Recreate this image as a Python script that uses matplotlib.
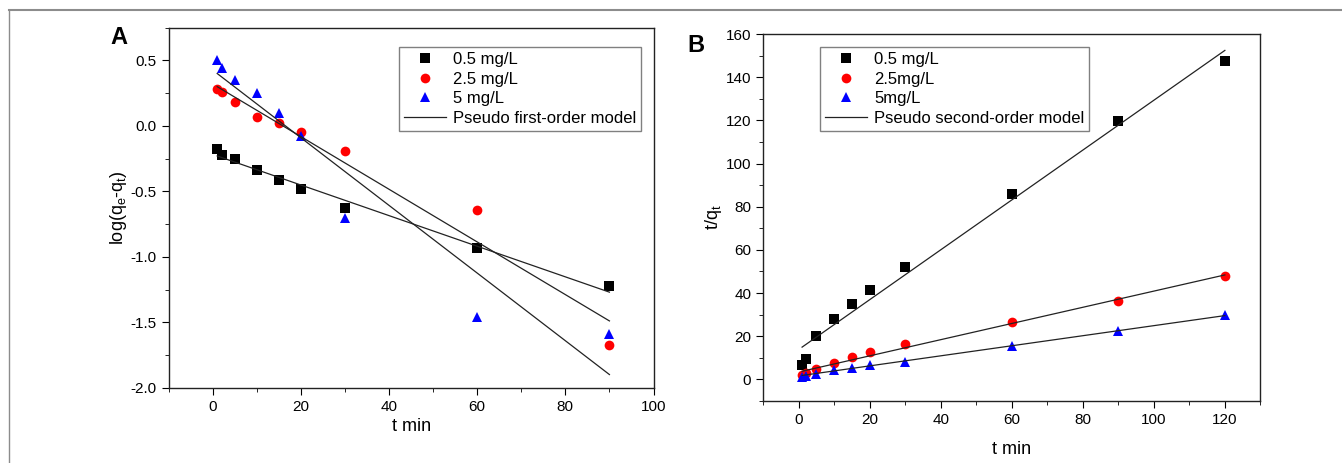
import numpy as np
import matplotlib
matplotlib.use("Agg")
import matplotlib.pyplot as plt
from matplotlib.lines import Line2D
from matplotlib.ticker import MultipleLocator

plt.rcParams['font.family'] = ['Liberation Sans', 'DejaVu Sans']
plt.rcParams['axes.unicode_minus'] = False

# ---------------- data: panel A (pseudo first-order) ----------------
t_A = [1, 2, 5, 10, 15, 20, 30, 60, 90]
logq_05 = [-0.18, -0.22, -0.25, -0.34, -0.41, -0.48, -0.63, -0.93, -1.22]
logq_25 = [0.28, 0.26, 0.18, 0.07, 0.02, -0.05, -0.19, -0.64, -1.67]
logq_5 = [0.50, 0.44, 0.35, 0.25, 0.10, -0.08, -0.70, -1.46, -1.59]
# fitted lines (slope, intercept)
fitA_slope = [-0.01169, -0.02011, -0.02584]
fitA_icpt = [-0.218, 0.320, 0.426]
labels_A = ["0.5 mg/L", "2.5 mg/L", "5 mg/L"]

# ---------------- data: panel B (pseudo second-order) ----------------
t_B = [1, 2, 5, 10, 15, 20, 30, 60, 90, 120]
tq_05 = [6.5, 9.5, 20, 28, 35, 41.5, 52, 86, 119.5, 147.5]
tq_25 = [2, 3, 5, 7.5, 10.5, 12.5, 16.5, 26.5, 36.5, 48]
tq_5 = [1, 1.5, 2.5, 4.5, 5.5, 6.5, 8, 15.5, 22.5, 30]
fitB_slope = [1.155, 0.375, 0.233]
fitB_icpt = [13.8, 3.4, 1.6]
labels_B = ["0.5 mg/L", "2.5mg/L", "5mg/L"]

colors = ["#000000", "#ff0000", "#0000ff"]
markers = ["s", "o", "^"]
msizes = [6.5, 7, 7.5]

fig = plt.figure(figsize=(13.42, 4.63), dpi=100)

# outer frame lines (top and left)
fig.add_artist(Line2D([9/1342, 1.0], [1-10/463, 1-10/463], color="#8c8c8c", lw=1.5))
fig.add_artist(Line2D([9/1342, 9/1342], [0, 1-10/463], color="#8c8c8c", lw=1.0))

def style_axes(ax):
    for s in ax.spines.values():
        s.set_linewidth(1.0)
        s.set_color("#222222")
    ax.tick_params(which="both", direction="out", top=False, right=False, labelsize=11)
    ax.tick_params(which="major", length=5)
    ax.tick_params(which="minor", length=3)

legend_kw = dict(loc="upper left", fontsize=12, frameon=True, fancybox=False,
                 edgecolor="#808080", framealpha=1, handlelength=2.5, labelspacing=0.28,
                 borderpad=0.3, handletextpad=0.45, borderaxespad=0)

# ---------------- panel A ----------------
axA = fig.add_axes([168.7/1342, 1-387.7/463, (653.5-168.7)/1342, (387.7-27.7)/463])
seriesA = [logq_05, logq_25, logq_5]
for y, c, m, ms, lab in zip(seriesA, colors, markers, msizes, labels_A):
    axA.plot(t_A, y, linestyle="none", marker=m, color=c, markersize=ms,
             markeredgewidth=0, label=lab)
tfitA = np.array([t_A[0], t_A[-1]])
for k, b in zip(fitA_slope, fitA_icpt):
    axA.plot(tfitA, k*tfitA + b, color="#222222", lw=0.9)
axA.set_xlim(-10, 100)
axA.set_ylim(-2.0, 0.75)
axA.xaxis.set_major_locator(MultipleLocator(20))
axA.xaxis.set_minor_locator(MultipleLocator(10))
axA.yaxis.set_major_locator(MultipleLocator(0.5))
axA.yaxis.set_minor_locator(MultipleLocator(0.25))
axA.set_xlabel("t min", fontsize=13, labelpad=3)
axA.set_ylabel(r"log(q$_\mathregular{e}$-q$_\mathregular{t}$)", fontsize=13, labelpad=1)
style_axes(axA)
hA = axA.get_legend_handles_labels()[0] + [Line2D([], [], color="#222222", lw=0.9)]
lA = labels_A + ["Pseudo first-order model"]
axA.legend(hA, lA, bbox_to_anchor=(399/1342, 1-47/463),
           bbox_transform=fig.transFigure, **legend_kw)
fig.text(119/1342, 1-38/463, "A", fontsize=17, fontweight="bold", ha="center", va="center")

# ---------------- panel B ----------------
axB = fig.add_axes([763/1342, 1-401/463, (1260.4-763)/1342, (401-34)/463])
seriesB = [tq_05, tq_25, tq_5]
for y, c, m, ms, lab in zip(seriesB, colors, markers, msizes, labels_B):
    axB.plot(t_B, y, linestyle="none", marker=m, color=c, markersize=ms,
             markeredgewidth=0, label=lab)
tfitB = np.array([t_B[0], t_B[-1]])
for k, b in zip(fitB_slope, fitB_icpt):
    axB.plot(tfitB, k*tfitB + b, color="#222222", lw=0.9)
axB.set_xlim(-10, 130)
axB.set_ylim(-10, 160)
axB.xaxis.set_major_locator(MultipleLocator(20))
axB.xaxis.set_minor_locator(MultipleLocator(10))
axB.yaxis.set_major_locator(MultipleLocator(20))
axB.yaxis.set_minor_locator(MultipleLocator(10))
axB.set_xlabel("t min", fontsize=13, labelpad=10)
axB.set_ylabel(r"t/q$_\mathregular{t}$", fontsize=13, labelpad=1)
style_axes(axB)
hB = axB.get_legend_handles_labels()[0] + [Line2D([], [], color="#222222", lw=0.9)]
lB = labels_B + ["Pseudo second-order model"]
axB.legend(hB, lB, bbox_to_anchor=(820/1342, 1-47/463),
           bbox_transform=fig.transFigure, **legend_kw)
fig.text(696/1342, 1-45/463, "B", fontsize=17, fontweight="bold", ha="center", va="center")

fig.savefig("out.png", dpi=100)
